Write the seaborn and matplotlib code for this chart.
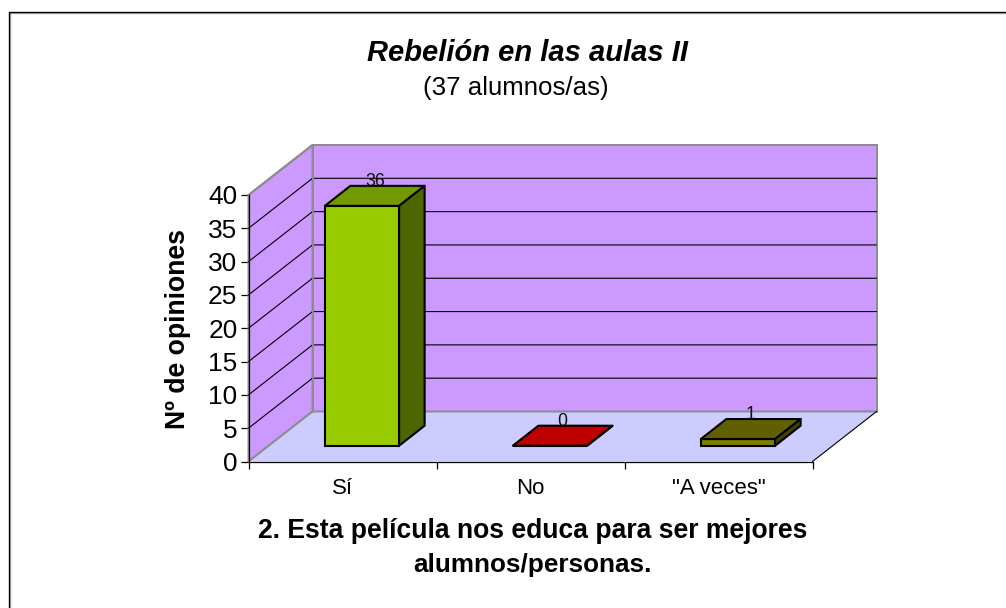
import matplotlib
matplotlib.use("Agg")
import matplotlib.pyplot as plt
import matplotlib.transforms as mtrans
from matplotlib.lines import Line2D
from matplotlib.patches import Polygon
import pandas as pd
import seaborn as sns

W, H = 1006, 608

categories = ['Sí', 'No', '"A veces"']
opinions = [36, 0, 1]
y_ticks = [0, 5, 10, 15, 20, 25, 30, 35, 40]

bar_colors = ['#99CC00', '#FF0000', '#808000']
top_colors = ['#739900', '#BF0000', '#606000']
side_colors = ['#4D6600', '#800000', '#404000']

sns.set_theme(style="white")
plt.rcParams['font.family'] = ['Liberation Sans', 'DejaVu Sans']

fig = plt.figure(figsize=(W / 100, H / 100), dpi=100)
fig.patch.set_facecolor('white')

# front plane of the fake 3d box, in pixels
left, right, top, bottom = 248.5, 812.5, 195, 461.5
ax = fig.add_axes([left / W, 1 - bottom / H, (right - left) / W, (bottom - top) / H])

df = pd.DataFrame({'cat': categories, 'val': opinions})
sns.barplot(data=df, x='cat', y='val', hue='cat', palette=bar_colors, legend=False, saturation=1,
            width=0.395, ax=ax, zorder=5, edgecolor='black', linewidth=1.5)
ax.set_xlim(-0.5, 2.5)
ax.set_ylim(0, 40)
ax.set_xlabel('')
ax.set_ylabel('')
ax.patch.set_alpha(0)

px = (right - left) / 3        # pixels per category
py = (bottom - top) / 40       # pixels per unit


def shift(dx, dy):
    return (dx / px, -dy / py)


wall = '#CC99FF'
floor = '#CCCCFF'
gray = '#8C8C8C'
back_dx, back_dy = shift(64, -50)

# walls and floor
ax.add_patch(Polygon([(-0.5 + back_dx, back_dy), (2.5 + back_dx, back_dy), (2.5 + back_dx, 40 + back_dy),
                      (-0.5 + back_dx, 40 + back_dy)], fc=wall, ec=gray, lw=1.4, clip_on=False, zorder=1))
ax.add_patch(Polygon([(-0.5, 0), (-0.5 + back_dx, back_dy), (-0.5 + back_dx, 40 + back_dy), (-0.5, 40)],
                     fc=wall, ec=gray, lw=1.4, clip_on=False, zorder=1))
ax.add_patch(Polygon([(-0.5, 0), (2.5, 0), (2.5 + back_dx, back_dy), (-0.5 + back_dx, back_dy)],
                     fc=floor, ec='none', clip_on=False, zorder=1.5))
ax.plot([-0.5, -0.5 + back_dx, 2.5 + back_dx], [0, back_dy, back_dy], color=gray, lw=1.4,
        clip_on=False, zorder=1.6)
ax.plot([2.5, 2.5 + back_dx], [0, back_dy], color='black', lw=0.8, clip_on=False, zorder=1.6)

# gridlines on the walls
for t in y_ticks[1:-1]:
    ax.plot([-0.5, -0.5 + back_dx, 2.5 + back_dx], [t, t + back_dy, t + back_dy], color='black', lw=0.8,
            clip_on=False, zorder=2)
ax.plot([-0.5 + back_dx, -0.5 + back_dx], [back_dy, 40 + back_dy], color=gray, lw=1.4, clip_on=False, zorder=2.1)
ax.plot([-0.5, -0.5 + back_dx, 2.5 + back_dx], [40, 40 + back_dy, 40 + back_dy], color=gray, lw=1.4,
        clip_on=False, zorder=2.1)

# bars sit part way into the box
off_x, off_y = shift(19.5, -15.8)
dep_x, dep_y = shift(25.5, -20)
for i, patch in enumerate(ax.patches[:3]):
    x0 = patch.get_x() + off_x
    x1 = x0 + patch.get_width()
    y0 = off_y
    y1 = patch.get_height() + off_y
    patch.set_transform(mtrans.Affine2D().translate(off_x, off_y) + ax.transData)
    patch.set_clip_on(False)
    ax.add_patch(Polygon([(x0, y1), (x1, y1), (x1 + dep_x, y1 + dep_y), (x0 + dep_x, y1 + dep_y)],
                         fc=top_colors[i], ec='black', lw=1.5, clip_on=False, zorder=5, joinstyle='round'))
    ax.add_patch(Polygon([(x1, y0), (x1 + dep_x, y0 + dep_y), (x1 + dep_x, y1 + dep_y), (x1, y1)],
                         fc=side_colors[i], ec='black', lw=1.5, clip_on=False, zorder=5, joinstyle='round'))
    ax.text((x0 + x1) / 2 + dep_x / 2, y1 + dep_y, str(opinions[i]), ha='center', va='baseline',
            fontsize=12.8, color='#111111', zorder=6, clip_on=False)

# axes and ticks
for s in ['top', 'right']:
    ax.spines[s].set_visible(False)
for s in ['left', 'bottom']:
    ax.spines[s].set_linewidth(0.9)
    ax.spines[s].set_color('black')
    ax.spines[s].set_zorder(3)
ax.set_yticks(y_ticks)
ax.set_yticklabels([str(t) for t in y_ticks])
ax.set_xticks([-0.5, 0.5, 1.5, 2.5], minor=False)
ax.set_xticklabels([])
ax.set_xticks([0, 1, 2], minor=True)
ax.set_xticklabels(categories, minor=True)
ax.tick_params(axis='y', length=6, width=0.9, color='black', labelcolor='black', labelsize=18.9, pad=2, left=True)
ax.tick_params(axis='x', which='major', length=5, width=0.9, color='black', bottom=True)
ax.tick_params(axis='x', which='minor', length=0, labelsize=16, labelcolor='black', pad=12, bottom=False)

fig.text(527.5 / W, 1 - 53 / H, 'Rebelión en las aulas II', ha='center', va='center', fontsize=21,
         fontweight='bold', fontstyle='italic', color='black')
fig.text(515.5 / W, 1 - 88 / H, '(37 alumnos/as)', ha='center', va='center', fontsize=18.6, color='black')
fig.text(178 / W, 1 - 329 / H, 'Nº de opiniones', ha='center', va='center', rotation=90, fontsize=19.2,
         fontweight='bold', color='black')
fig.text(532.5 / W, 1 - 531 / H, '2. Esta película nos educa para ser mejores', ha='center', va='center',
         fontsize=19.1, fontweight='bold', color='black')
fig.text(532.5 / W, 1 - 565 / H, 'alumnos/personas.', ha='center', va='center', fontsize=18.8,
         fontweight='bold', color='black')

# chart frame: only the top and left edges fall inside the picture
for color, off in [('#B0B0B0', 1.3), ('black', 0)]:
    fig.add_artist(Line2D([(8.5 + off) / W, (8.5 + off) / W, 1], [0, 1 - (12 + off) / H, 1 - (12 + off) / H],
                          color=color, lw=1, transform=fig.transFigure))

fig.savefig('out.png', dpi=100, facecolor='white')
